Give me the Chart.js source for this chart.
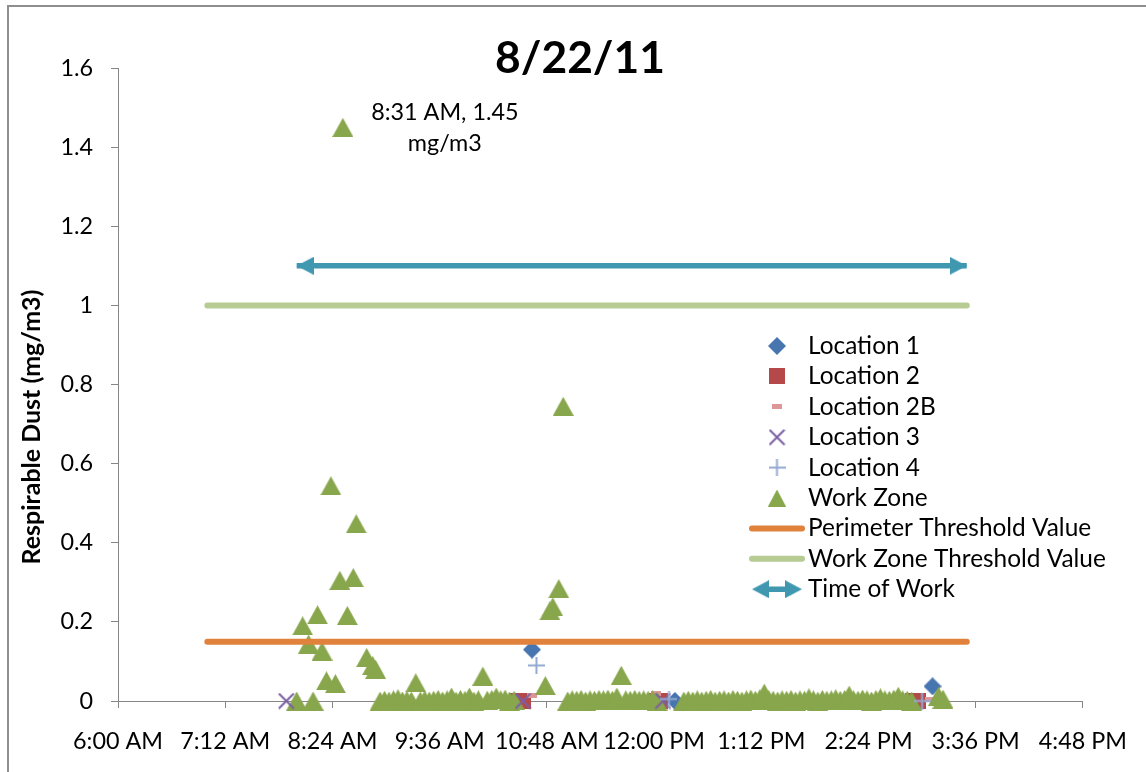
<!DOCTYPE html>
<html><head><meta charset="utf-8">
<script src="https://cdn.jsdelivr.net/npm/chart.js@4.4.1/dist/chart.umd.min.js"></script>
<style>html,body{margin:0;padding:0;background:#fff;overflow:hidden}canvas{display:block}</style>
</head><body>
<canvas id="c" width="1146" height="772"></canvas>
<script>
// ---------------- DATA ----------------
const chartTitle = "8/22/11";
const yAxisTitle = "Respirable Dust (mg/m3)";
const annotationLines = ["8:31 AM, 1.45", "mg/m3"];
const annotationTime = "8:31";
const annotationValue = 1.45;

const xTickTimes  = ["6:00","7:12","8:24","9:36","10:48","12:00","13:12","14:24","15:36","16:48"];
const xTickLabels = ["6:00 AM","7:12 AM","8:24 AM","9:36 AM","10:48 AM","12:00 PM","1:12 PM","2:24 PM","3:36 PM","4:48 PM"];
const yTickValues = [0,0.2,0.4,0.6,0.8,1,1.2,1.4,1.6];
const yTickLabels = ["0","0.2","0.4","0.6","0.8","1","1.2","1.4","1.6"];

const loc1Times  = ["10:38","12:14","15:07"];
const loc1Values = [0.13, 0, 0.037];
const loc2Times  = ["10:28","10:32","12:02","12:04","14:54","14:57"];
const loc2Values = [0, 0, 0, 0, 0, 0];
const loc2bTimes  = ["10:38","12:01","15:05"];
const loc2bValues = [0.015, 0.018, 0.003];
const loc3Times  = ["7:53","10:32","12:06"];
const loc3Values = [0, 0, 0];
const loc4Times  = ["10:41","12:10","15:00"];
const loc4Values = [0.09, 0.005, 0];

const wzTimes = [
 "8:00","8:04","8:08","8:11","8:14","8:17","8:20","8:23","8:26","8:29","8:31","8:34","8:38","8:40","8:47","8:51","8:53",
 "8:56","8:59","9:02","9:05","9:08","9:11","9:14","9:17","9:20","9:23","9:26","9:29","9:32","9:35","9:38","9:41",
 "9:44","9:47","9:50","9:53","9:56","9:59","10:02","10:05","10:08","10:11","10:14","10:17","10:20","10:23","10:26",
 "10:47","10:50","10:52","10:56","10:59",
 "11:02","11:05","11:08","11:11","11:14","11:17","11:20","11:23","11:26","11:29","11:32","11:35","11:38","11:41",
 "11:44","11:47","11:50","11:53","11:56","11:59","12:02",
 "12:20","12:23","12:26","12:29","12:32","12:35","12:38","12:41","12:44","12:47","12:50","12:53","12:56","12:59",
 "13:02","13:05","13:08","13:11","13:14","13:17","13:20","13:23","13:26","13:29","13:32","13:35","13:38","13:41",
 "13:44","13:47","13:50","13:53","13:56","13:59","14:02","14:05","14:08","14:11","14:14","14:17","14:20","14:23",
 "14:26","14:29","14:32","14:35","14:38","14:41","14:44","14:47","14:50","14:53",
 "15:11","15:14"
];
const wzValues = [
 0,0.19,0.144,0,0.218,0.126,0.051,0.544,0.044,0.305,1.45,0.216,0.312,0.448,0.11,0.09,0.08,
 0,0.002,0,0.003,0.006,0,0.002,0,0.046,0,0.003,0,0.002,0.004,0,0.003,
 0.01,0,0.004,0.002,0.01,0,0.003,0.063,0.002,0.004,0.01,0.003,0.005,0,0.002,
 0.039,0.228,0.238,0.284,0.745,
 0,0.003,0.002,0.004,0,0.003,0.002,0.004,0.003,0.005,0.002,0.01,0.065,0.003,
 0.002,0.004,0.002,0.003,0.002,0.003,0,
 0,0.002,0,0.003,0,0.002,0.004,0,0.002,0.003,0,0.004,0.002,0,
 0.003,0.005,0.002,0.006,0.02,0.004,0.002,0,0.003,0.002,0.004,0,0.003,0.002,
 0.008,0.003,0,0.004,0.002,0.003,0.006,0.002,0.004,0.015,0.003,0.002,0.005,0.003,
 0,0.004,0.008,0.003,0.002,0.005,0.012,0.003,0.002,0,
 0.012,0.005
];

const perimeterTimes  = ["7:00","15:30"];
const perimeterValues = [0.15, 0.15];
const wzThresholdTimes  = ["7:00","15:30"];
const wzThresholdValues = [1, 1];
const workTimes  = ["8:00","15:30"];
const workValues = [1.1, 1.1];

// ---------------- STYLE ----------------
const C = {loc1:'#4675b0', loc2:'#b5494a', loc2b:'#dc9796', loc3:'#7b5fa4', loc4:'#94a9d2',
           wz:'#88a64c', perim:'#e0823c', wzt:'#b6cc93', work:'#3f98b0', axis:'#868686'};
const FAMILY = 'Lato, "Open Sans", sans-serif';

function toMin(t){ const p = t.split(':'); return (+p[0])*60 + (+p[1]); }
function pts(times, vals){ return times.map((t,i)=>({x:toMin(t), y:vals[i]})); }

function fitSize(text, weight, target){
  const g = document.createElement('canvas').getContext('2d');
  g.font = weight + ' 100px ' + FAMILY;
  return 100 * target / g.measureText(text).width;
}
function mk(w,h,draw){ const c=document.createElement('canvas'); c.width=w; c.height=h; draw(c.getContext('2d'),w,h); return c; }

function build(){
  const tickSize   = fitSize("8:24 AM", 'normal', 90);
  const legendSize = fitSize("Work Zone Threshold Value", 'normal', 298);
  const titleSize  = fitSize(chartTitle, 'bold', 170);
  const yTitleSize = fitSize(yAxisTitle, 'bold', 275);

  const mDiamond = mk(18,18,(g,w,h)=>{g.fillStyle=C.loc1;g.beginPath();g.moveTo(w/2,0);g.lineTo(w,h/2);g.lineTo(w/2,h);g.lineTo(0,h/2);g.closePath();g.fill();});
  const mSquare  = mk(16,16,(g,w,h)=>{g.fillStyle=C.loc2;g.fillRect(0,0,w,h);});
  const mDash    = mk(10,5,(g,w,h)=>{g.fillStyle=C.loc2b;g.fillRect(0,0,w,h);});
  const mX       = mk(17,17,(g,w,h)=>{g.strokeStyle=C.loc3;g.lineWidth=2;g.beginPath();g.moveTo(1,1);g.lineTo(w-1,h-1);g.moveTo(w-1,1);g.lineTo(1,h-1);g.stroke();});
  const mPlus    = mk(17,17,(g,w,h)=>{g.strokeStyle=C.loc4;g.lineWidth=2;g.beginPath();g.moveTo(w/2,0);g.lineTo(w/2,h);g.moveTo(0,h/2);g.lineTo(w,h/2);g.stroke();});
  const mTri     = mk(21,19,(g,w,h)=>{g.fillStyle=C.wz;g.beginPath();g.moveTo(w/2,0);g.lineTo(w,h);g.lineTo(0,h);g.closePath();g.fill();});
  const mTriLeg  = mk(18,17,(g,w,h)=>{g.fillStyle=C.wz;g.beginPath();g.moveTo(w/2,0);g.lineTo(w,h);g.lineTo(0,h);g.closePath();g.fill();});
  const arrowL   = mk(34,18,(g,w,h)=>{g.fillStyle=C.work;g.beginPath();g.moveTo(17,h/2);g.lineTo(34,0);g.lineTo(34,h);g.closePath();g.fill();});
  const arrowR   = mk(34,18,(g,w,h)=>{g.fillStyle=C.work;g.beginPath();g.moveTo(17,h/2);g.lineTo(0,0);g.lineTo(0,h);g.closePath();g.fill();});

  const markerDs = (label, data, style, order) => ({label, data, pointStyle:style, pointRadius:9, pointBorderWidth:0, pointBackgroundColor:'rgba(0,0,0,0)', borderWidth:0, showLine:false, order, clip:false});

  const datasets = [
    markerDs('Location 1', pts(loc1Times,loc1Values), mDiamond, 8),
    markerDs('Location 2', pts(loc2Times,loc2Values), mSquare, 9),
    markerDs('Location 2B', pts(loc2bTimes,loc2bValues), mDash, 7),
    markerDs('Location 3', pts(loc3Times,loc3Values), mX, 5),
    markerDs('Location 4', pts(loc4Times,loc4Values), mPlus, 4),
    markerDs('Work Zone', pts(wzTimes,wzValues), mTri, 6),
    {label:'Perimeter Threshold Value', data:pts(perimeterTimes,perimeterValues), showLine:true, borderColor:C.perim, borderWidth:6, borderCapStyle:'round', pointRadius:0, order:3, clip:false},
    {label:'Work Zone Threshold Value', data:pts(wzThresholdTimes,wzThresholdValues), showLine:true, borderColor:C.wzt, borderWidth:6, borderCapStyle:'round', pointRadius:0, order:2, clip:false},
    {label:'Time of Work', data:pts(workTimes,workValues), showLine:true, borderColor:C.work, borderWidth:5.5, borderCapStyle:'butt',
      pointStyle:(c)=> c.dataIndex === 0 ? arrowL : arrowR, pointRadius:9, pointBorderWidth:0, order:1, clip:false}
  ];
  const legendMarkers = [mDiamond, mSquare, mDash, mX, mPlus, mTriLeg];

  const overlay = {
    id:'overlay',
    beforeDraw(chart){
      const g = chart.ctx; g.save();
      g.fillStyle='#fff'; g.fillRect(0,0,chart.width,chart.height);
      g.strokeStyle='#8e8e8e'; g.lineWidth=2; g.strokeRect(8,6,chart.width+40,chart.height+40);
      g.restore();
    },
    afterDraw(chart){
      const g = chart.ctx; g.save();
      g.fillStyle='#000';
      // title
      g.font = 'bold ' + titleSize + 'px ' + FAMILY;
      g.textAlign='center'; g.textBaseline='alphabetic';
      g.fillText(chartTitle, 580, 73);
      // y axis title
      g.save(); g.translate(32, 427); g.rotate(-Math.PI/2);
      g.font = 'bold ' + yTitleSize + 'px ' + FAMILY; g.textAlign='center'; g.textBaseline='middle';
      g.fillText(yAxisTitle, 0, 0); g.restore();
      // annotation near point
      const ax = chart.scales.x.getPixelForValue(toMin(annotationTime));
      const ay = chart.scales.y.getPixelForValue(annotationValue);
      g.font = tickSize + 'px ' + FAMILY; g.textAlign='center'; g.textBaseline='alphabetic';
      g.fillText(annotationLines[0], ax + 102, ay - 7);
      g.fillText(annotationLines[1], ax + 102, ay + 24);
      // legend
      g.font = legendSize + 'px ' + FAMILY; g.textAlign='left';
      datasets.forEach((ds, i) => {
        const base = 354 + 30.4*i, cy = base - 8;
        if (i < 6) {
          const m = legendMarkers[i];
          g.drawImage(m, 777 - m.width/2, cy - m.height/2);
        } else if (i < 8) {
          g.strokeStyle = ds.borderColor; g.lineWidth = 6; g.lineCap='round';
          g.beginPath(); g.moveTo(752, cy); g.lineTo(802, cy); g.stroke();
        } else {
          g.strokeStyle = ds.borderColor; g.lineWidth = 5.5; g.lineCap='butt';
          g.beginPath(); g.moveTo(760, cy); g.lineTo(794, cy); g.stroke();
          g.drawImage(arrowL, 752 - 17, cy - 9); g.drawImage(arrowR, 802 - 17, cy - 9);
        }
        g.fillStyle='#000';
        g.fillText(ds.label, 808, base);
      });
      g.restore();
    }
  };

  const axisCommon = {
    grid:{display:true, drawOnChartArea:false, drawTicks:true, tickLength:7, color:C.axis, lineWidth:1},
    border:{display:true, color:C.axis, width:1}
  };

  new Chart(document.getElementById('c'), {
    type:'scatter',
    data:{datasets},
    options:{
      responsive:false, animation:false, devicePixelRatio:1, events:[],
      layout:{padding:{left:0, right:63, top:68, bottom:0}},
      plugins:{legend:{display:false}, tooltip:{enabled:false}, title:{display:false}},
      scales:{
        x:Object.assign({type:'linear', min:toMin(xTickTimes[0]), max:toMin(xTickTimes[xTickTimes.length-1]),
          afterBuildTicks:(s)=>{ s.ticks = xTickTimes.map(t=>({value:toMin(t)})); },
          afterFit:(s)=>{ s.height = 71; },
          ticks:{callback:(v,i)=>xTickLabels[i], autoSkip:false, maxRotation:0, minRotation:0, padding:19, color:'#000', font:{family:FAMILY, size:tickSize}}
        }, axisCommon),
        y:Object.assign({type:'linear', min:0, max:1.6,
          afterBuildTicks:(s)=>{ s.ticks = yTickValues.map(v=>({value:v})); },
          afterFit:(s)=>{ s.width = 118; },
          ticks:{callback:(v,i)=>yTickLabels[i], padding:18, color:'#000', font:{family:FAMILY, size:tickSize}}
        }, axisCommon)
      }
    },
    plugins:[overlay]
  });
}

if (document.fonts && document.fonts.load) {
  Promise.all([document.fonts.load('20px Lato'), document.fonts.load('bold 20px Lato')]).then(build, build);
} else { build(); }
</script>
</body></html>
